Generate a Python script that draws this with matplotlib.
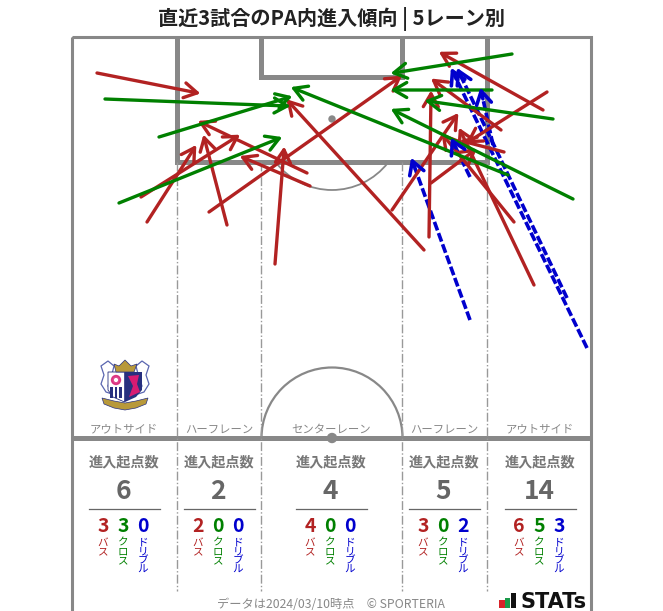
import numpy as np
import matplotlib
matplotlib.use('Agg')
import matplotlib.pyplot as plt
from matplotlib.patches import Circle, Rectangle, Polygon, Arc

plt.rcParams['font.family'] = ['Noto Sans CJK JP', 'DejaVu Sans']

# Arrows as picture pixels: (x0, y0, x1, y1), start to head
pass_arrows = [
    (97, 73, 198, 93), (307, 173, 200, 122), (310, 186, 242, 157),
    (147, 222, 195, 147), (141, 197, 238, 136), (227, 225, 204, 137),
    (209, 212, 400, 77), (275, 264, 284, 149), (424, 250, 288, 101),
    (543, 110, 441, 53), (501, 130, 433, 80), (547, 92, 468, 142),
    (504, 152, 462, 141), (392, 210, 457, 115), (429, 237, 431, 93),
    (431, 183, 475, 150), (534, 285, 460, 130), (514, 222, 443, 135),
]
cross_arrows = [
    (105, 99, 288, 106), (159, 137, 290, 97), (119, 203, 280, 138),
    (508, 175, 293, 88), (573, 199, 393, 110), (512, 54, 393, 73),
    (492, 90, 393, 90), (553, 119, 427, 101),
]
dribble_arrows = [
    (470, 320, 412, 160), (470, 177, 452, 140), (587, 348, 452, 70),
    (567, 298, 458, 70), (493, 145, 481, 90),
]

lanes = ['アウトサイド', 'ハーフレーン', 'センターレーン', 'ハーフレーン', 'アウトサイド']
lane_x = [124, 219, 331, 444, 540]
totals = [6, 2, 4, 5, 14]
passes = [3, 2, 4, 3, 6]
crosses = [3, 0, 0, 0, 5]
dribbles = [0, 0, 0, 2, 3]

GRAY = '#888888'
DARK = '#666666'
RED = '#b22222'
GREEN = '#008000'
BLUE = '#0000cd'

fig = plt.figure(figsize=(6.63, 6.11), dpi=100)
ax = fig.add_axes([0, 0, 1, 1])
ax.set_xlim(0, 663)
ax.set_ylim(611, 0)
ax.axis('off')

# Pitch
ax.add_patch(Rectangle((71.5, 37), 519.5, 600, fill=False, ec=GRAY, lw=2.2))
ax.plot([177, 177, 487, 487], [37, 162, 162, 37], color=GRAY, lw=3.6, solid_joinstyle='miter', solid_capstyle='butt')
ax.plot([261, 261, 402, 402], [37, 77, 77, 37], color=GRAY, lw=3.6, solid_joinstyle='miter', solid_capstyle='butt')
ax.plot([72, 591], [438, 438], color=GRAY, lw=3.6, solid_capstyle='butt')
ax.add_patch(Arc((332, 438), 141, 141, theta1=180, theta2=360, ec=GRAY, lw=1.6))
ax.add_patch(Circle((332, 438), 4.5, color=GRAY))
ax.add_patch(Circle((332, 119), 3, color=GRAY))
# y axis is inverted, so this is the lower part of the penalty arc
ax.add_patch(Arc((332, 119), 142, 142, theta1=38, theta2=142, ec=GRAY, lw=1.3))
for x in [177, 261, 402, 487]:
    ax.plot([x, x], [162, 591], color='#999999', lw=1, ls='-.')


def draw_arrows(rows, color, lw=2.4, dashed=False):
    for x0, y0, x1, y1 in rows:
        # the head tip sits a little short of xy, push it out
        d = np.hypot(x1 - x0, y1 - y0)
        ux, uy = (x1 - x0) / d, (y1 - y0) / d
        start = (x0, y0)
        if dashed:
            # solid head on a short stub, dashes for the rest
            start = (x1 - 9 * ux, y1 - 9 * uy)
            ax.plot([x0, start[0]], [y0, start[1]], color=color, lw=lw,
                    ls=(0, (2.5, 0.8)), dash_capstyle='butt')
        ax.annotate('', xy=(x1 + 2.5 * ux, y1 + 2.5 * uy), xytext=start,
                    arrowprops=dict(arrowstyle='->,head_length=0.62,head_width=0.36',
                                    color=color, lw=lw,
                                    shrinkA=0, shrinkB=0, mutation_scale=15))


draw_arrows(pass_arrows, RED)
draw_arrows(cross_arrows, GREEN)
draw_arrows(dribble_arrows, BLUE, lw=2.6, dashed=True)

# Zone table
for i in range(5):
    cx = lane_x[i]
    ax.text(cx, 429.5, lanes[i], ha='center', va='center', fontsize=8.2, color=GRAY)
    ax.text(cx, 462.5, '進入起点数', ha='center', va='center', fontsize=10.2, fontweight='bold', color='#777777')
    ax.text(cx - 1, 491.5, str(totals[i]), ha='center', va='center', fontsize=19, fontweight='bold', color=DARK)
    ax.plot([cx - 35, cx + 36], [508.5, 508.5], color=DARK, lw=0.9)
    cols = [(passes[i], 'バス', RED, -21), (crosses[i], 'クロス', GREEN, -1), (dribbles[i], 'ドリブル', BLUE, 19)]
    for val, name, col, off in cols:
        ax.text(cx + off, 527, str(val), ha='center', va='center', fontsize=14, fontweight='bold', color=col)
        ax.text(cx + off, 537.5, '\n'.join(name), ha='center', va='top', fontsize=7.6, color=col, linespacing=0.88)

ax.text(331, 19, '直近3試合のPA内進入傾向 | 5レーン別', ha='center', va='center',
        fontsize=14.5, fontweight='bold', color='#222222')
ax.text(331, 604, 'データは2024/03/10時点　© SPORTERIA', ha='center', va='center', fontsize=8.8, color=GRAY)

# STATS mark
ax.add_patch(Rectangle((499, 600), 5.5, 7.5, color='#d8232a', lw=0))
ax.add_patch(Rectangle((505, 598), 5, 9.5, color='#1a9a4a', lw=0))
ax.add_patch(Rectangle((510.5, 593), 5, 14.5, color='#111111', lw=0))
ax.text(521, 607.5, 'STATs', ha='left', va='baseline', fontsize=15, fontweight='bold',
        color='#111111', family='DejaVu Sans')

# Club crest
NAVY = '#27307f'
PINK = '#d81b72'
GOLD = '#b8993a'
OUTLINE = '#5a66b0'
for pts in [[(101, 366), (108, 361), (114, 366), (112, 374), (108, 386), (112, 394), (106, 392), (101, 384), (104, 375)],
            [(149, 366), (142, 361), (136, 366), (138, 374), (142, 386), (138, 394), (144, 392), (149, 384), (146, 375)]]:
    ax.add_patch(Polygon(pts, fc='white', ec=OUTLINE, lw=0.9))
ax.add_patch(Polygon([(108, 372), (124.5, 372), (124.5, 402), (113, 397), (108, 390)], fc='white', ec=NAVY, lw=0.6))
for sx in [110, 114.5, 119]:
    ax.add_patch(Rectangle((sx, 387), 2.8, 11, color=NAVY, lw=0))
ax.add_patch(Polygon([(125, 372), (142, 372), (142, 390), (136, 397), (125, 402)], fc=NAVY, lw=0))
ax.add_patch(Polygon([(128, 376), (139, 375), (137, 384), (140, 392), (129, 397), (133, 386)], fc=PINK, lw=0))
ax.add_patch(Circle((116, 380), 4.5, color=PINK, alpha=0.8))
ax.add_patch(Circle((116, 380), 1.4, color='white'))
ax.add_patch(Polygon([(116, 372), (114, 364), (119, 366), (125, 360), (131, 366), (137, 364), (134, 372)],
                     fc=GOLD, ec=NAVY, lw=0.5))
ax.add_patch(Polygon([(102, 398), (114, 401), (125, 403), (136, 401), (148, 398), (146, 404), (136, 408),
                      (125, 410), (114, 408), (104, 404)], fc=GOLD, ec=NAVY, lw=0.5))

fig.patch.set_facecolor('white')
fig.savefig('out.png', dpi=100)
